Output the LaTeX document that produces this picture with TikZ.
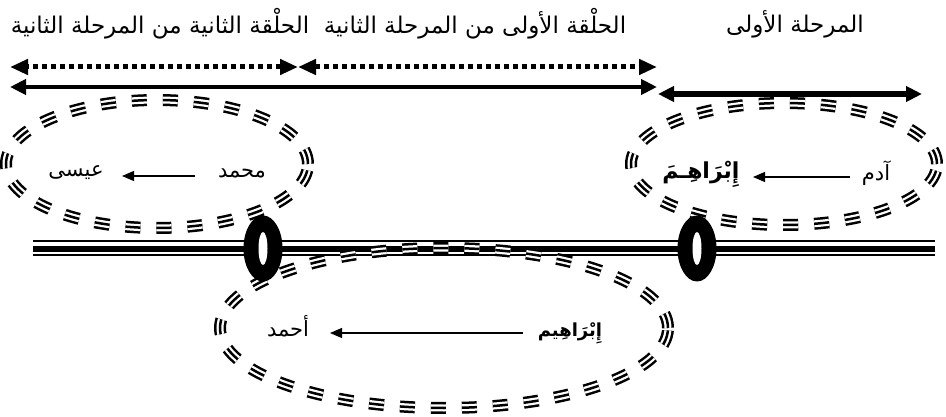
\documentclass[tikz,border=0pt]{standalone}
\usepackage{fontspec}
\usetikzlibrary{arrows.meta}
\newfontfamily\arabicfont[Script=Arabic]{DejaVu Sans}
\TeXXeTstate=1
\begin{document}
\begin{tikzpicture}[x=1pt,y=-1pt,
  lbl/.style={font=\arabicfont\fontsize{23pt}{27pt}\selectfont, inner sep=0pt},
  innertxt/.style={font=\arabicfont\fontsize{21pt}{25pt}\selectfont, inner sep=0pt},
  boldname/.style={font=\arabicfont\bfseries\fontsize{22pt}{26pt}\selectfont, inner sep=0pt},
  bigarrow/.style={line width=4.5pt, {Triangle[length=16pt,width=15pt]}-{Triangle[length=16pt,width=15pt]}},
  dotarrow/.style={line width=5pt, dash pattern=on 5pt off 4pt, {Triangle[length=18pt,width=15pt]}-{Triangle[length=18pt,width=15pt]}},
  smallarrow/.style={line width=1.3pt, -{Triangle[length=12pt,width=10pt]}},
  tripA/.style={line width=12pt, dash pattern=on 15pt off 16pt},
  tripB/.style={white, line width=7pt, dash pattern=on 15pt off 16pt},
  tripC/.style={line width=2.5pt, dash pattern=on 15pt off 16pt},
  ringstyle/.style={fill=black},
  holestyle/.style={fill=white},
]
\useasboundingbox (0,0) rectangle (946,417);

% top labels
\node[lbl] (t1) at (160,24) {\beginR الحلْقة الثانية من المرحلة الثانية\endR};
\node[lbl] (t2) at (475,24) {\beginR الحلْقة الأولى من المرحلة الثانية\endR};
\node[lbl] (t3) at (795,24) {\beginR المرحلة الأولى\endR};

% top arrows
\coordinate (d1) at (10,67);
\coordinate (d2) at (298,67);
\coordinate (d3) at (657,67);
\coordinate (s1) at (10,87);
\coordinate (s2) at (657,87);
\coordinate (r1) at (658,94);
\coordinate (r2) at (922,94);
\draw[dotarrow] (d2) -- (d1);
\draw[dotarrow] (d2) -- (d3);
\draw[bigarrow] (s1) -- (s2);
\draw[bigarrow, line width=6pt] (r1) -- (r2);

% triple horizontal line
\coordinate (hl) at (33,0);
\coordinate (hr) at (935,0);
\draw[line width=2.5pt] (hl |- 0,241) -- (hr |- 0,241);
\draw[line width=5.5pt] (hl |- 0,249) -- (hr |- 0,249);
\draw[line width=2pt] (hl |- 0,255) -- (hr |- 0,255);

% ellipses with triple dashed outline
\coordinate (eL) at (157,164);
\coordinate (eR) at (784,164);
\coordinate (eB) at (444,328);
\foreach \c/\a/\b in {eL/151/64, eR/153/61, eB/224/80} {
  \draw[tripA] (\c) ellipse (\a pt and \b pt);
  \draw[tripB] (\c) ellipse (\a pt and \b pt);
  \draw[tripC] (\c) ellipse (\a pt and \b pt);
}

% rings
\coordinate (ringL) at (263,248.5);
\coordinate (ringR) at (697,248.5);
\foreach \c in {ringL, ringR} {
  \fill[ringstyle] (\c) ellipse (19.5pt and 33pt);
  \fill[holestyle] (\c) ellipse (4.5pt and 16.5pt);
}

% texts inside ellipses
\node[innertxt] (muh) at (242,173) {\beginR محمد\endR};
\node[innertxt] (isa) at (76,173) {\beginR عيسى\endR};
\node[innertxt] (adam) at (876,173) {\beginR آدم\endR};
\node[boldname] (ibr1) at (701,174) {\beginR إِبْرَاهِـمَ\endR};
\node[innertxt] (ahmad) at (288,326) {\beginR أحمد\endR};
\node[boldname, font=\arabicfont\bfseries\fontsize{18pt}{22pt}\selectfont] (ibr2) at (570,333) {\beginR إِبْرَاهِيم\endR};

\coordinate (a1s) at (195,176);
\coordinate (a1e) at (122,176);
\coordinate (a2s) at (850,177);
\coordinate (a2e) at (753,177);
\coordinate (a3s) at (523,333);
\coordinate (a3e) at (330,333);
\draw[smallarrow] (a1s) -- (a1e);
\draw[smallarrow] (a2s) -- (a2e);
\draw[smallarrow] (a3s) -- (a3e);
\end{tikzpicture}
\end{document}
